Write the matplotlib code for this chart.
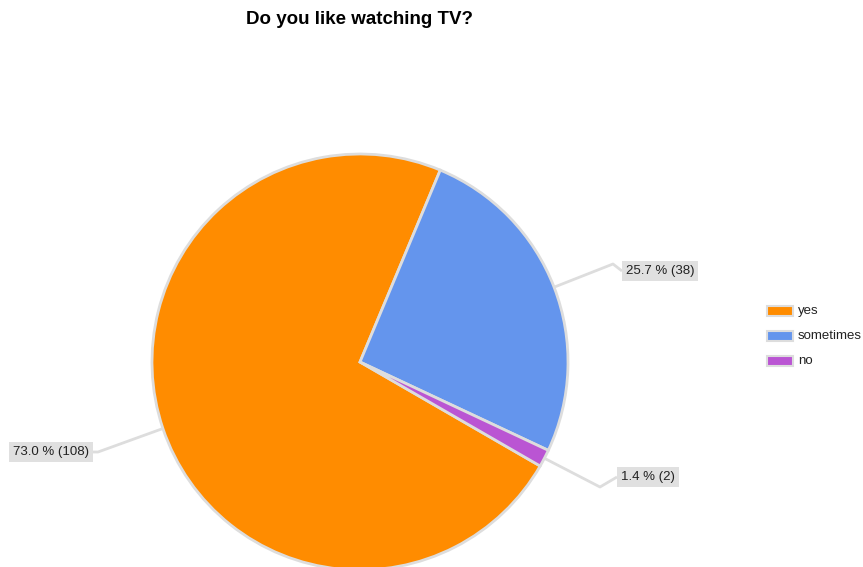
import numpy as np
import matplotlib.pyplot as plt
from matplotlib.patches import Rectangle

plt.rcParams['font.family'] = ['Liberation Sans', 'DejaVu Sans']

answers = ['yes', 'sometimes', 'no']
counts = [108, 38, 2]
colors = ['#ff8c00', '#6495ed', '#ba55d3']
title = 'Do you like watching TV?'

# pixel-like canvas, y going up
W, H = 863, 567
fig = plt.figure(figsize=(W / 100, H / 100), dpi=100)
ax = fig.add_axes([0, 0, 1, 1])

cx, cy, r = 360, H - 362, 208
wedges, _ = ax.pie(counts, colors=colors, startangle=-30, counterclock=False,
                   center=(cx, cy), radius=r,
                   wedgeprops=dict(edgecolor='#dddddd', linewidth=2))
ax.set_xlim(0, W)
ax.set_ylim(0, H)
ax.set_aspect('equal')
ax.axis('off')

total = sum(counts)
# elbow point and label anchor (left/right edge of the box) for each slice
label_layout = {
    'yes': ((98, H - 452), (89, H - 452), 'right'),
    'sometimes': ((613, H - 264), (626, H - 271), 'left'),
    'no': ((600, H - 487), (621, H - 477), 'left'),
}
for w, name, n in zip(wedges, answers, counts):
    mid = np.deg2rad((w.theta1 + w.theta2) / 2)
    ax_pt = (cx + r * np.cos(mid), cy + r * np.sin(mid))
    elbow, (tx, ty), ha = label_layout[name]
    edge_x = tx + (4 if ha == 'right' else -4)
    ax.plot([ax_pt[0], elbow[0], edge_x], [ax_pt[1], elbow[1], ty],
            color='#dddddd', lw=2, solid_capstyle='butt', zorder=1)
    ax.text(tx, ty, f'{100 * n / total:.1f} % ({n})', ha=ha, va='center',
            fontsize=9.5, color='#222222',
            bbox=dict(boxstyle='square,pad=0.3', fc='#e0e0e0', ec='none'))

ax.text(359, H - 20, title, ha='center', va='center', fontsize=13.5,
        fontweight='bold', color='black')

# legend
for i, (name, c) in enumerate(zip(answers, colors)):
    y = H - 311 - 25 * i
    ax.add_patch(Rectangle((767, y - 5), 26, 10, fc=c, ec='#dddddd', lw=1.5))
    ax.text(798, y, name, ha='left', va='center', fontsize=9.5, color='#222222')

fig.savefig('out.png', dpi=100)
